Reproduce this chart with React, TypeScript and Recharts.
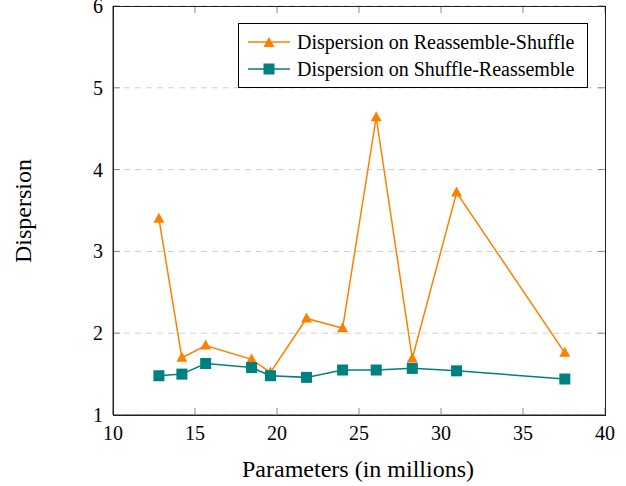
import { LineChart, Line, XAxis, YAxis, CartesianGrid } from 'recharts';

const PARAMS = [12.8, 14.2, 15.65, 18.45, 19.6, 21.8, 24.0, 26.05, 28.25, 30.95, 37.55];
const REASSEMBLE_SHUFFLE = [3.4, 1.7, 1.85, 1.68, 1.52, 2.18, 2.06, 4.64, 1.69, 3.72, 1.76];
const SHUFFLE_REASSEMBLE = [1.48, 1.5, 1.63, 1.58, 1.48, 1.46, 1.55, 1.55, 1.57, 1.54, 1.44];
const X_TICKS = [10, 15, 20, 25, 30, 35, 40];
const Y_TICKS = [1, 2, 3, 4, 5, 6];
const SERIES_NAMES = ['Dispersion on Reassemble-Shuffle', 'Dispersion on Shuffle-Reassemble'];

const ORANGE = '#ff8000';
const TEAL = '#008080';
const FONT = 'Liberation Serif, Times New Roman, serif';
const TICK_LEN = 7;

const W = 626;
const H = 486;
const MARGIN = { top: 6, right: 21, left: 53, bottom: 41 };
const Y_AXIS_W = 60;
const X_AXIS_H = 30;
// plot box size, used to mirror ticks onto the top and right sides
const PLOT_W = W - MARGIN.left - MARGIN.right - Y_AXIS_W;
const PLOT_H = H - MARGIN.top - MARGIN.bottom - X_AXIS_H;

const data = PARAMS.map((p, i) => ({
  p,
  rs: REASSEMBLE_SHUFFLE[i],
  sr: SHUFFLE_REASSEMBLE[i],
}));

// eslint-disable-next-line @typescript-eslint/no-explicit-any
const Triangle = ({ cx, cy, fill }: any) => (
  <path d={`M${cx},${cy - 6} L${cx + 5.5},${cy + 4} L${cx - 5.5},${cy + 4} Z`} fill={fill} />
);
// eslint-disable-next-line @typescript-eslint/no-explicit-any
const Square = ({ cx, cy, fill }: any) => (
  <rect x={cx - 5.5} y={cy - 5.5} width={11} height={11} fill={fill} />
);

// eslint-disable-next-line @typescript-eslint/no-explicit-any
const BottomTick = ({ x, y, payload }: any) => {
  const px = Number(x);
  const py = Number(y);
  return (
    <g>
      <path d={`M${px},${py}V${py - TICK_LEN}M${px},${py - PLOT_H}V${py - PLOT_H + TICK_LEN}`} stroke="#8c8c8c" strokeWidth={1} fill="none" />
      <text x={px} y={py + 25} textAnchor="middle" fontSize={20} style={{ fontFamily: FONT }} fill="#000">
        {payload.value}
      </text>
    </g>
  );
};
// eslint-disable-next-line @typescript-eslint/no-explicit-any
const LeftTick = ({ x, y, payload }: any) => {
  const px = Number(x);
  const py = Number(y);
  return (
    <g>
      <path d={`M${px},${py}H${px + TICK_LEN}M${px + PLOT_W},${py}H${px + PLOT_W - TICK_LEN}`} stroke="#8c8c8c" strokeWidth={1} fill="none" />
      <text x={px - 10} y={py + 7} textAnchor="end" fontSize={20} style={{ fontFamily: FONT }} fill="#000">
        {payload.value}
      </text>
    </g>
  );
};

const LegendBox = () => {
  const rows = [
    { name: SERIES_NAMES[0], color: ORANGE, shape: 'tri' },
    { name: SERIES_NAMES[1], color: TEAL, shape: 'sq' },
  ];
  return (
    <div
      style={{
        position: 'absolute',
        left: 238,
        top: 23,
        width: 350,
        border: '1px solid #000',
        background: '#fff',
        padding: '5px 0 5px 9px',
        fontFamily: FONT,
        fontSize: 20,
        lineHeight: '26.6px',
        boxSizing: 'border-box',
      }}
    >
      {rows.map((r) => (
        <div key={r.name} style={{ display: 'flex', alignItems: 'center', whiteSpace: 'nowrap' }}>
          <svg width={49} height={16} style={{ flex: 'none' }}>
            <line x1={0} y1={8} x2={42} y2={8} stroke={r.color} strokeWidth={1.5} />
            {r.shape === 'tri' ? <Triangle cx={21} cy={9} fill={r.color} /> : <Square cx={21} cy={8} fill={r.color} />}
          </svg>
          <span>{r.name}</span>
        </div>
      ))}
    </div>
  );
};

export default function App() {
  return (
    <div style={{ position: 'absolute', left: 0, top: 0, width: W, height: H, background: '#fff' }}>
      <LineChart width={W} height={H} data={data} margin={MARGIN}>
        <CartesianGrid vertical={false} stroke="#cfcfcf" strokeDasharray="6 5" />
        <XAxis
          dataKey="p"
          type="number"
          domain={[10, 40]}
          ticks={X_TICKS}
          height={X_AXIS_H}
          tickSize={0}
          tickMargin={0}
          tick={<BottomTick />}
          axisLine={{ stroke: '#222' }}
          tickLine={false}
          interval={0}
          allowDataOverflow
          label={{
            content: () => (
              <text x={358} y={477} textAnchor="middle" fontSize={24} style={{ fontFamily: FONT }} fill="#000">
                Parameters (in millions)
              </text>
            ),
          }}
        />
        <YAxis
          type="number"
          domain={[1, 6]}
          ticks={Y_TICKS}
          width={Y_AXIS_W}
          tickSize={0}
          tickMargin={0}
          tick={<LeftTick />}
          axisLine={{ stroke: '#222' }}
          tickLine={false}
          interval={0}
          allowDataOverflow
          label={{
            content: () => (
              <text
                x={31}
                y={211}
                transform="rotate(-90 31 211)"
                textAnchor="middle"
                fontSize={24}
                style={{ fontFamily: FONT }}
                fill="#000"
              >
                Dispersion
              </text>
            ),
          }}
        />
        <Line
          dataKey="rs"
          name={SERIES_NAMES[0]}
          stroke={ORANGE}
          strokeWidth={1.5}
          dot={(props: any) => <Triangle key={`t${props.index}`} cx={props.cx} cy={props.cy} fill={ORANGE} />}
          activeDot={false}
          isAnimationActive={false}
        />
        <Line
          dataKey="sr"
          name={SERIES_NAMES[1]}
          stroke={TEAL}
          strokeWidth={1.5}
          dot={(props: any) => <Square key={`s${props.index}`} cx={props.cx} cy={props.cy} fill={TEAL} />}
          activeDot={false}
          isAnimationActive={false}
        />
      </LineChart>
      {/* axis frame around the plot area */}
      <div
        style={{
          position: 'absolute',
          left: MARGIN.left + Y_AXIS_W - 0.5,
          top: MARGIN.top - 0.5,
          width: PLOT_W + 1,
          height: PLOT_H + 1,
          border: '1px solid #222',
          boxSizing: 'border-box',
          pointerEvents: 'none',
        }}
      />
      <LegendBox />
    </div>
  );
}
